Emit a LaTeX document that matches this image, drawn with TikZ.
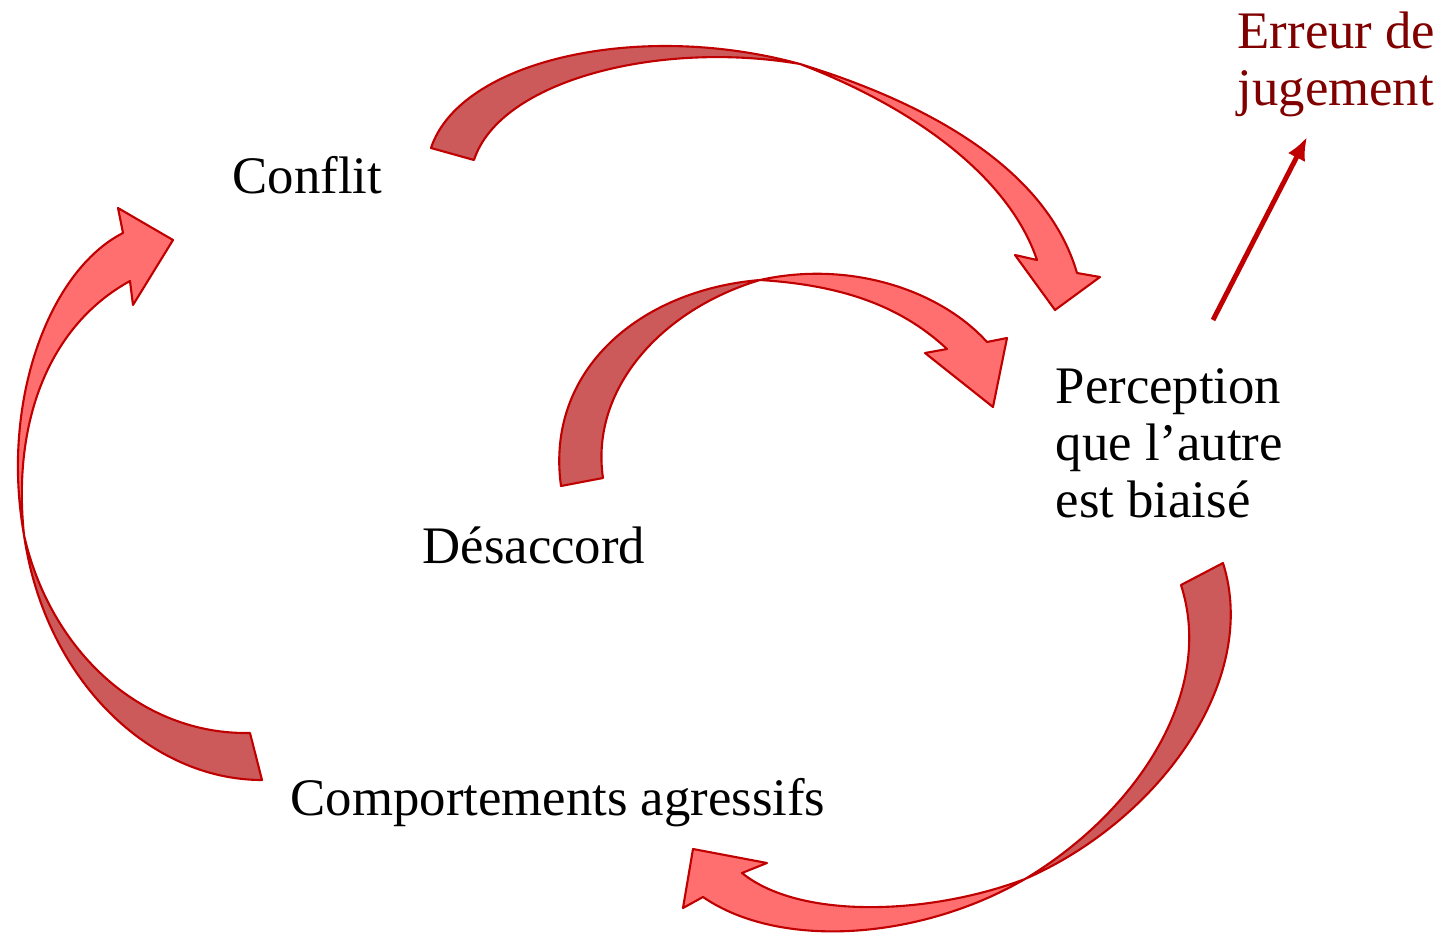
\documentclass[tikz,border=0pt]{standalone}
\usepackage{fontspec}
\setmainfont{Liberation Serif}
\usepackage{tikz}
\usetikzlibrary{arrows.meta}
\definecolor{riblight}{RGB}{255,111,111}
\definecolor{ribdark}{RGB}{205,90,90}
\definecolor{ribedge}{RGB}{192,0,0}
\definecolor{errcol}{RGB}{128,0,0}
\tikzset{>={Latex[length=6.5pt,width=5.5pt]}}
\tikzset{back/.style={fill=ribdark,draw=ribedge,line width=0.6pt,line join=round},
	front/.style={fill=riblight,draw=ribedge,line width=0.6pt,line join=round}}
\newcommand{\drawlabel}{\node[anchor=base west,inner sep=0,align=left,font=\fontsize{15}{16.2}\selectfont]}

\begin{document}
\begin{tikzpicture}[x=0.01cm,y=-0.01cm]
	\useasboundingbox (0,0) rectangle (1456,936);
	
	\drawlabel (conflit) at (232,193) {Conflit};
	\drawlabel (desac) at (422,563) {Désaccord};
	\drawlabel (perc) at (1055,517) {Perception\\que l’autre\\est biaisé};% base = last line
	\drawlabel (comp) at (290,815) {Comportements agressifs};
	\drawlabel[text=errcol] (err) at (1237,105) {Erreur de\\jugement};
	
	% conflit -> perception
	\filldraw[back] (431,148) .. controls (460,60) and (640,20) .. (800,64)
		.. controls (660,40) and (500,80) .. (474,160) -- cycle;
	\filldraw[front] (800,64) .. controls (950,110) and (1050,180) .. (1077,273)
		-- (1100,277) -- (1055,310) -- (1015,255) -- (1037,260)
		.. controls (1010,180) and (920,110) .. (800,64) -- cycle;
	
	% desaccord -> perception
	\filldraw[back] (561,486) .. controls (545,370) and (640,290) .. (760,280)
		.. controls (660,310) and (590,390) .. (603,478) -- cycle;
	\filldraw[front] (760,280) .. controls (850,260) and (940,290) .. (987,342)
		-- (1007,338) -- (993,407) -- (925,353) -- (947,349)
		.. controls (900,305) and (840,285) .. (760,280) -- cycle;
	
	% comportements -> conflit
	\filldraw[back] (24,535) .. controls (45,680) and (150,780) .. (262,780)
		-- (250,733) .. controls (140,735) and (50,650) .. (24,535) -- cycle;
	\filldraw[front] (24,535) .. controls (0,400) and (50,270) .. (123,233)
		-- (118,208) -- (173,240) -- (133,305) -- (130,281)
		.. controls (50,325) and (12,420) .. (24,535) -- cycle;
	
	% perception -> comportements
	\filldraw[back] (1223,563) .. controls (1260,680) and (1160,820) .. (1025,879)
		.. controls (1140,810) and (1215,690) .. (1181,585) -- cycle;
	\filldraw[front] (1025,879) .. controls (920,940) and (780,950) .. (703,897)
		-- (683,908) -- (693,849) -- (767,863) -- (742,873)
		.. controls (800,920) and (930,915) .. (1025,879) -- cycle;
	
	\coordinate (errfrom) at (1213,320);
	\coordinate (errto) at (1307,137);
	\draw[->,ribedge,line width=1.4pt] (errfrom) -- (errto);
	
\end{tikzpicture}
\end{document}
